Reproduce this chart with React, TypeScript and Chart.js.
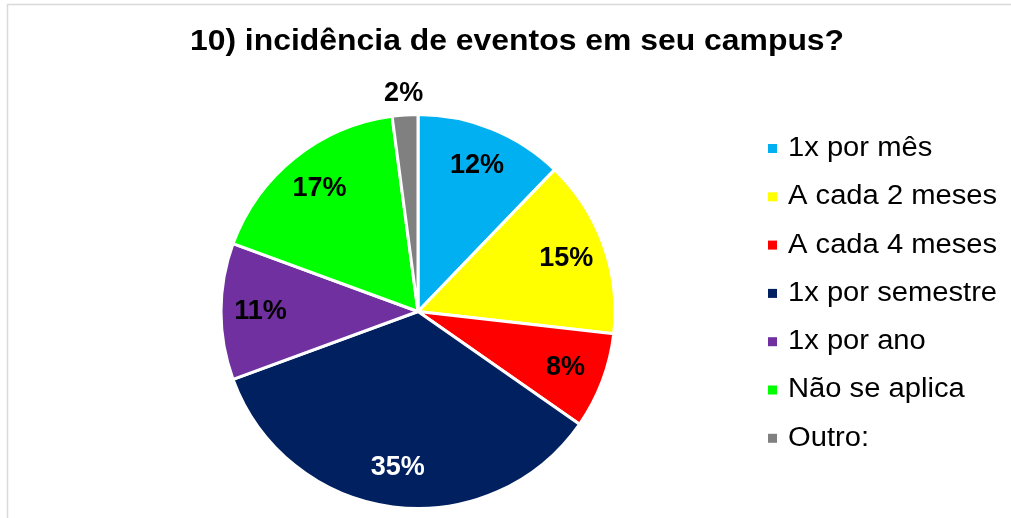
import React, { useEffect, useRef } from "react";
import { Chart, registerables } from "chart.js";

Chart.register(...registerables);

const TITLE = "10) incidência de eventos em seu campus?";
const CATEGORIES = [
  "1x por mês",
  "A cada 2 meses",
  "A cada 4 meses",
  "1x por semestre",
  "1x por ano",
  "Não se aplica",
  "Outro:",
];
const VALUES = [12.2, 14.6, 7.9, 34.7, 11.2, 17.3, 2.1];
const PERCENT_LABELS = ["12%", "15%", "8%", "35%", "11%", "17%", "2%"];
const COLORS = ["#00B0F0", "#FFFF00", "#FF0000", "#002060", "#7030A0", "#00FF00", "#808080"];
const LABEL_COLORS = ["#000000", "#000000", "#000000", "#FFFFFF", "#000000", "#000000", "#000000"];

const FONT = "'Liberation Sans', Arial, sans-serif";

function drawStretched(ctx: CanvasRenderingContext2D, text: string, x: number, y: number, sx: number, align: CanvasTextAlign) {
  ctx.save();
  ctx.translate(x, y);
  ctx.scale(sx, 1);
  ctx.textAlign = align;
  ctx.textBaseline = "middle";
  ctx.fillText(text, 0, 0);
  ctx.restore();
}

const decorPlugin = {
  id: "decor",
  beforeDraw(chart: any) {
    const ctx = chart.ctx as CanvasRenderingContext2D;
    ctx.save();
    ctx.fillStyle = "#ffffff";
    ctx.fillRect(0, 0, chart.width, chart.height);
    ctx.strokeStyle = "#d9d9d9";
    ctx.lineWidth = 1.5;
    ctx.beginPath();
    ctx.moveTo(7.5, chart.height);
    ctx.lineTo(7.5, 4.5);
    ctx.lineTo(chart.width, 4.5);
    ctx.stroke();
    ctx.restore();
  },
  afterDraw(chart: any) {
    const ctx = chart.ctx as CanvasRenderingContext2D;
    ctx.save();
    // title
    ctx.fillStyle = "#000000";
    ctx.font = `bold 29px ${FONT}`;
    drawStretched(ctx, TITLE, 517, 42, 1.1, "center");
    // legend
    ctx.font = `27px ${FONT}`;
    CATEGORIES.forEach((c, i) => {
      const cy = 148.5 + i * 48.3;
      ctx.fillStyle = COLORS[i];
      ctx.fillRect(768, cy - 4.5, 9, 9);
      ctx.fillStyle = "#000000";
      drawStretched(ctx, c, 788, cy, 1.08, "left");
    });
    ctx.restore();
  },
};

const labelPlugin = {
  id: "pctLabels",
  afterDatasetsDraw(chart: any) {
    const ctx = chart.ctx as CanvasRenderingContext2D;
    const meta = chart.getDatasetMeta(0);
    ctx.save();
    ctx.font = `bold 27px ${FONT}`;
    meta.data.forEach((arc: any, i: number) => {
      const { x, y, startAngle, endAngle, outerRadius } = arc.getProps(
        ["x", "y", "startAngle", "endAngle", "outerRadius"],
        true
      );
      const mid = (startAngle + endAngle) / 2;
      const small = VALUES[i] < 5;
      const r = small ? outerRadius + 21 : outerRadius * 0.8;
      ctx.fillStyle = LABEL_COLORS[i];
      drawStretched(ctx, PERCENT_LABELS[i], x + Math.cos(mid) * r, y + Math.sin(mid) * r, 1.0, "center");
    });
    ctx.restore();
  },
};

export default function App() {
  const ref = useRef<HTMLCanvasElement | null>(null);
  useEffect(() => {
    document.body.style.margin = "0";
    if (!ref.current) return;
    const chart = new Chart(ref.current, {
      type: "pie",
      data: {
        labels: CATEGORIES,
        datasets: [
          {
            data: VALUES,
            backgroundColor: COLORS,
            borderColor: "#ffffff",
            borderWidth: 3,
            radius: 197,
          } as any,
        ],
      },
      options: {
        animation: false,
        responsive: false,
        layout: { padding: { left: 0, right: 175, top: 110, bottom: 5 } },
        plugins: {
          legend: { display: false },
          title: { display: false },
          tooltip: { enabled: false },
        },
      },
      plugins: [decorPlugin, labelPlugin],
    });
    return () => chart.destroy();
  }, []);
  return (
    <div style={{ width: 1011, height: 518 }}>
      <canvas ref={ref} width={1011} height={518} style={{ display: "block" }} />
    </div>
  );
}
